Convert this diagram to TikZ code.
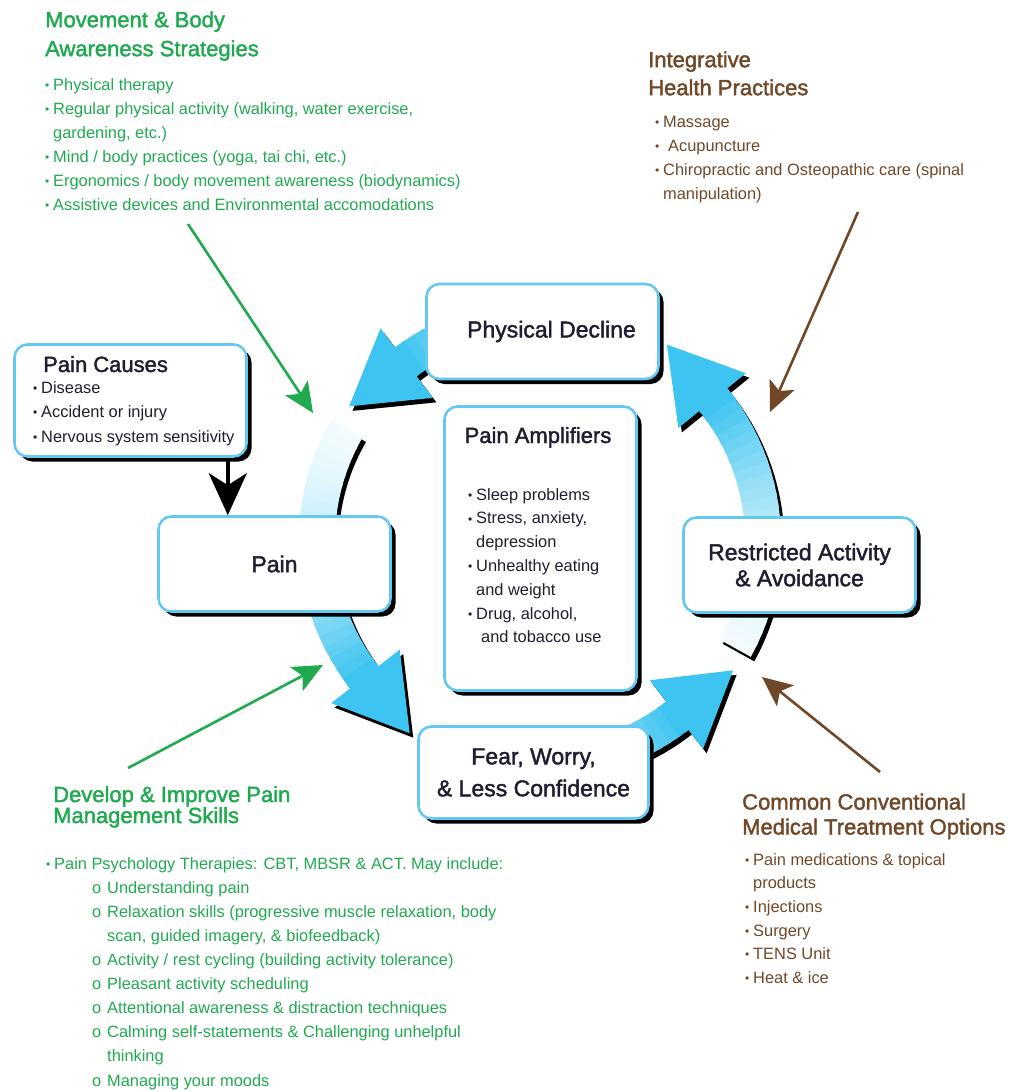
\documentclass[tikz,border=0pt]{standalone}
\usepackage{fontspec}
\setmainfont{Liberation Sans}
\newfontfamily\headfont{Liberation Sans}[FakeBold=1.8]
\usetikzlibrary{arrows.meta,shadows}

\definecolor{leafgreen}{RGB}{32,170,80}
\definecolor{barkbrown}{RGB}{112,72,40}
\definecolor{ringcyan}{RGB}{62,196,240}
\definecolor{boxblue}{RGB}{100,200,240}
\definecolor{inkdark}{RGB}{30,30,50}

\setlength{\lineskiplimit}{-50pt}

% small list marks
\newcommand{\bul}{\makebox[8pt][l]{\fontsize{12}{12}\selectfont\raisebox{0.8pt}{•}}}
\newcommand{\subi}{\hspace*{46pt}\makebox[15pt][l]{o}}
\newcommand{\cont}[1]{\hspace*{#1}}

% one curved arrow of the cycle: tail angle, head base angle, tip angle
\newcommand{\cyclearrow}[3]{%
  \begin{scope}[shift={(3.5,4.5)}]
    \fill[black] (#1:205) arc[start angle=#1, end angle=#2, radius=205] -- (#2:178) -- (#3:233)
      -- (#2:265) -- (#2:241) arc[start angle=#2, end angle=#1, radius=241] -- cycle;
  \end{scope}
  \foreach \k in {0,...,23}{
    \pgfmathsetmacro\angA{#1+(#2-#1)*\k/24}
    \pgfmathsetmacro\angB{#1+(#2-#1)*(\k+1.3)/24}
    \pgfmathsetmacro\tone{6+94*(0.4*\k/23+0.6*(\k/23)*(\k/23))}
    \fill[ringcyan!\tone!white] (\angA:205) arc[start angle=\angA, end angle=\angB, radius=205]
      -- (\angB:241) arc[start angle=\angB, end angle=\angA, radius=241] -- cycle;
  }
  \fill[ringcyan] (#2+1:205) -- (#2:205) -- (#2:178) -- (#3:233) -- (#2:265) -- (#2:241) -- (#2+1:241) -- cycle;
}

\begin{document}
\begin{tikzpicture}[x=1pt, y=-1pt,
  stage/.style={draw=boxblue, line width=2.6pt, fill=white, rounded corners=13pt,
    drop shadow={shadow xshift=5pt, shadow yshift=-5pt, fill=black, opacity=1},
    text=inkdark, align=center, inner sep=0pt, font=\headfont\fontsize{23}{26}\selectfont},
  listtext/.style={anchor=north west, inner sep=0pt, align=left, font=\fontsize{16.4}{24}\selectfont},
  greenhead/.style={anchor=north west, inner sep=0pt, align=left, text=leafgreen,
    font=\headfont\fontsize{22}{29}\selectfont},
  brownhead/.style={greenhead, text=barkbrown},
  feedline/.style={leafgreen, line width=2.6pt, -{Stealth[length=30pt, width=27pt, inset=7pt]}},
  careline/.style={feedline, barkbrown},
  causeline/.style={black, line width=4pt, -{Stealth[length=42pt, width=38pt, inset=12pt]}}]

\useasboundingbox (0,0) rectangle (1010,1091);

% the cycle
\begin{scope}[shift={(540,540)}]
  \cyclearrow{29}{-39}{-57}
  \cyclearrow{119}{52}{34}
  \cyclearrow{210}{142}{124}
  \cyclearrow{298}{233}{215}
\end{scope}

% stages
\node[stage, minimum width=232pt, minimum height=95pt] (decline) at (542.5,331.5) {\hspace*{18pt}Physical Decline};
\node[stage, minimum width=232pt, minimum height=95pt] (pain) at (274.5,564) {Pain};
\node[stage, minimum width=232pt, minimum height=95pt] (restrict) at (799.5,565) {Restricted Activity\\\& Avoidance};
\node[stage, minimum width=230pt, minimum height=92pt, font=\headfont\fontsize{23}{32}\selectfont] (fear) at (533.5,772.5) {Fear, Worry,\\\& Less Confidence};
\node[stage, minimum width=192pt, minimum height=284pt] (amp) at (540.5,548.5) {};
\node[stage, minimum width=232pt, minimum height=112pt] (causes) at (130.5,400.5) {};

% box texts
\node[anchor=base, inner sep=0pt, text=inkdark, font=\headfont\fontsize{22}{26}\selectfont] (amptitle) at (538,443) {Pain Amplifiers};
\node[listtext, text=inkdark, font=\fontsize{16.4}{23.8}\selectfont] (amplist) at (468,483.3)
  {\strut\bul Sleep problems\\\bul Stress, anxiety,\\\cont{8pt}depression\\\bul Unhealthy eating\\\cont{8pt}and weight\\\bul Drug, alcohol,\\\cont{13pt}and tobacco use};
\node[anchor=base west, inner sep=0pt, text=inkdark, font=\headfont\fontsize{22}{26}\selectfont] (causetitle) at (43,372) {Pain Causes};
\node[listtext, text=inkdark, font=\fontsize{16.4}{24.5}\selectfont] (causelist) at (33,375.9)
  {\strut\bul Disease\\\bul Accident or injury\\\bul Nervous system sensitivity};

% outside texts
\node[greenhead] (movehead) at (45,6.7) {\strut Movement \& Body\\Awareness Strategies};
\node[listtext, text=leafgreen] (movelist) at (45,73.2)
  {\strut\bul Physical therapy\\\bul Regular physical activity (walking, water exercise,\\\cont{8pt}gardening, etc.)\\\bul Mind / body practices (yoga, tai chi, etc.)\\\bul Ergonomics / body movement awareness (biodynamics)\\\bul Assistive devices and Environmental accomodations};

\node[brownhead, font=\headfont\fontsize{22}{28}\selectfont] (integhead) at (648,47.4) {\strut Integrative\\Health Practices};
\node[listtext, text=barkbrown] (integlist) at (655,110.2)
  {\strut\bul Massage\\\bul\hspace{5pt}Acupuncture\\\bul Chiropractic and Osteopathic care (spinal\\\cont{8pt}manipulation)};

\node[greenhead, font=\headfont\fontsize{22}{21}\selectfont] (skillhead) at (53,785.9) {\strut Develop \& Improve Pain\\Management Skills};
\node[listtext, text=leafgreen, font=\fontsize{16.4}{24.1}\selectfont] (skilllist) at (46,852.1)
  {\strut\bul Pain Psychology Therapies: CBT, MBSR \& ACT. May include:\\
   \subi Understanding pain\\
   \subi Relaxation skills (progressive muscle relaxation, body\\
   \cont{61pt}scan, guided imagery, \& biofeedback)\\
   \subi Activity / rest cycling (building activity tolerance)\\
   \subi Pleasant activity scheduling\\
   \subi Attentional awareness \& distraction techniques\\
   \subi Calming self-statements \& Challenging unhelpful\\
   \cont{61pt}thinking\\
   \subi Managing your moods};

\node[brownhead, font=\headfont\fontsize{22}{25}\selectfont] (treathead) at (742,791.8) {\strut Common Conventional\\Medical Treatment Options};
\node[listtext, text=barkbrown, font=\fontsize{16.4}{23.6}\selectfont] (treatlist) at (745,848.5)
  {\strut\bul Pain medications \& topical\\\cont{8pt}products\\\bul Injections\\\bul Surgery\\\bul TENS Unit\\\bul Heat \& ice};

% connectors
\coordinate (movefrom) at (188,224);
\coordinate (moveto) at (313,413);
\coordinate (skillfrom) at (128,768);
\coordinate (skillto) at (323,665);
\coordinate (integfrom) at (858,212);
\coordinate (integto) at (770,412);
\coordinate (treatfrom) at (880,772);
\coordinate (treatto) at (762,677);
\draw[feedline] (movefrom) -- (moveto);
\draw[feedline] (skillfrom) -- (skillto);
\draw[careline] (integfrom) -- (integto);
\draw[careline] (treatfrom) -- (treatto);
\draw[causeline] ([xshift=-20pt]causes.south east) -- ([xshift=-20pt]causes.south east |- pain.north);
\end{tikzpicture}
\end{document}
